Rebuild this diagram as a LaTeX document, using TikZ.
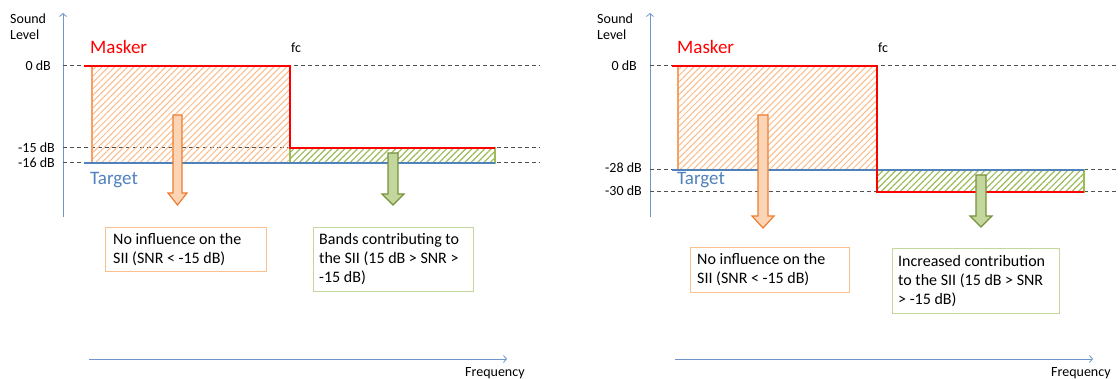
\documentclass[tikz,border=0pt]{standalone}
\usepackage{fontspec}
\setmainfont{Carlito}
\usetikzlibrary{arrows.meta,patterns.meta}
\definecolor{maskred}{RGB}{255,0,0}
\definecolor{tgtblue}{RGB}{79,129,189}
\definecolor{axblue}{RGB}{110,150,205}
\definecolor{orhatch}{RGB}{250,188,138}
\definecolor{orborder}{RGB}{247,160,100}
\definecolor{grhatch}{RGB}{155,187,89}
\definecolor{orfill}{RGB}{251,213,181}
\definecolor{oredge}{RGB}{237,125,49}
\definecolor{grfill}{RGB}{195,214,155}
\definecolor{gredge}{RGB}{118,146,60}
\definecolor{obox}{RGB}{250,192,143}
\definecolor{gbox}{RGB}{195,214,155}
\definecolor{dashgray}{RGB}{80,80,80}
\tikzset{
  axisline/.style={draw=axblue, line width=0.8pt, -{Straight Barb[length=3pt,width=7pt]}},
  guide/.style={draw=dashgray, line width=1pt, dash pattern=on 4pt off 3pt},
  maskline/.style={draw=maskred, line width=2.5pt, line join=miter},
  tgtline/.style={draw=tgtblue, line width=2pt},
  orhatchbox/.style={draw=orborder, line width=1.2pt, pattern={Lines[angle=45,distance=4.5pt,line width=1pt]}, pattern color=orhatch},
  grhatchbox/.style={draw=grhatch, line width=1.2pt, pattern={Lines[angle=45,distance=4.5pt,line width=1.2pt]}, pattern color=grhatch},
  orarrow/.style={fill=orfill, draw=oredge, line width=1.2pt, line join=miter},
  grarrow/.style={fill=grfill, draw=gredge, line width=1.2pt, line join=miter},
  txt/.style={font=\fontsize{14}{17}\selectfont, inner sep=0pt, text=black},
  bigred/.style={font=\fontsize{19}{22}\selectfont, inner sep=0pt, text=maskred},
  bigblue/.style={font=\fontsize{19}{22}\selectfont, inner sep=0pt, text=tgtblue},
  boxframe/.style={rectangle, line width=1pt, inner sep=0pt, anchor=north west},
  boxtext/.style={font=\fontsize{16}{19}\selectfont, align=left, inner sep=0pt, anchor=west, text=black},
}
\begin{document}
\begin{tikzpicture}[x=1pt,y=-1pt]
\useasboundingbox (0,0) rectangle (1120,379);

% ================= LEFT PANEL =================
\coordinate (Ly0) at (63,217);
\coordinate (Ly1) at (63,13);
\coordinate (Lx0) at (89,359);
\coordinate (Lx1) at (507,359);
\draw[axisline] (Ly0) -- (Ly1);
\draw[axisline] (Lx0) -- (Lx1);

\draw[guide] (63,66) -- (540,66);
\draw[guide] (63,148) -- (540,148);
\draw[guide] (63,163) -- (540,163);

\path[orhatchbox] (92,66) rectangle (290,163);
\path[grhatchbox] (290,148) rectangle (495,163);

\draw[tgtline] (84,163) -- (495,163);
\draw[maskline] (84,66) -- (290,66) -- (290,148) -- (495,148);

\draw[orarrow] (173,115) -- (182,115) -- (182,193) -- (187,193) -- (177.5,205) -- (168,193) -- (173,193) -- cycle;
\draw[grarrow] (388,153) -- (398,153) -- (398,194) -- (404,194) -- (393,205) -- (382,194) -- (388,194) -- cycle;

\node[txt, anchor=base west] (Lsound) at (10,24) {Sound};
\node[txt, anchor=base west] (Llevel) at (10,40) {Level};
\node[bigred, anchor=base west] (Lmasker) at (90,54) {Masker};
\node[txt, anchor=base west] (Lfc) at (291,53) {fc};
\node[txt, anchor=base east] (L0) at (51,71) {0 dB};
\node[txt, anchor=base east] (L15) at (55,153) {-15 dB};
\node[txt, anchor=base east] (L16) at (55,168) {-16 dB};
\node[bigblue, anchor=base west] (Ltarget) at (90,185) {Target};
\node[txt, anchor=base west] (Lfreq) at (465,377) {Frequency};

\node[boxframe, draw=obox, minimum width=161pt, minimum height=44pt] (Lbox1) at (105,227) {};
\node[boxtext] (Lbox1t) at ([xshift=8pt]Lbox1.west) {No influence on the\\SII (SNR < -15 dB)};
\node[boxframe, draw=gbox, minimum width=160pt, minimum height=64pt] (Lbox2) at (313,227) {};
\node[boxtext] (Lbox2t) at ([xshift=6pt]Lbox2.west) {Bands contributing to\\the SII (15 dB > SNR >\\-15 dB)};

% ================= RIGHT PANEL =================
\coordinate (Ry0) at (650,217);
\coordinate (Ry1) at (650,13);
\coordinate (Rx0) at (675,359);
\coordinate (Rx1) at (1093,359);
\draw[axisline] (Ry0) -- (Ry1);
\draw[axisline] (Rx0) -- (Rx1);

\draw[guide] (650,66) -- (1116,66);
\draw[guide] (650,170) -- (1116,170);
\draw[guide] (650,192) -- (1116,192);

\path[orhatchbox] (678,66) rectangle (877,170);
\path[grhatchbox] (877,170) rectangle (1084,192);

\draw[tgtline] (672,170) -- (1084,170);
\draw[maskline] (672,66) -- (877,66) -- (877,192) -- (1084,192);

\draw[orarrow] (758,115) -- (768,115) -- (768,216) -- (774,216) -- (763,228) -- (752,216) -- (758,216) -- cycle;
\draw[grarrow] (976,175) -- (986,175) -- (986,216) -- (992,216) -- (981,227) -- (970,216) -- (976,216) -- cycle;

\node[txt, anchor=base west] (Rsound) at (597,24) {Sound};
\node[txt, anchor=base west] (Rlevel) at (597,40) {Level};
\node[bigred, anchor=base west] (Rmasker) at (677,54) {Masker};
\node[txt, anchor=base west] (Rfc) at (878,53) {fc};
\node[txt, anchor=base east] (R0) at (637,71) {0 dB};
\node[txt, anchor=base east] (R28) at (642,173) {-28 dB};
\node[txt, anchor=base east] (R30) at (642,196) {-30 dB};
\node[bigblue, anchor=base west] (Rtarget) at (677,185) {Target};
\node[txt, anchor=base west] (Rfreq) at (1051,377) {Frequency};

\node[boxframe, draw=obox, minimum width=159pt, minimum height=45pt] (Rbox1) at (690,247) {};
\node[boxtext] (Rbox1t) at ([xshift=7pt]Rbox1.west) {No influence on the\\SII (SNR < -15 dB)};
\node[boxframe, draw=gbox, minimum width=167pt, minimum height=65pt] (Rbox2) at (892,248) {};
\node[boxtext] (Rbox2t) at ([xshift=6pt]Rbox2.west) {Increased contribution\\to the SII (15 dB > SNR\\> -15 dB)};
\end{tikzpicture}
\end{document}
